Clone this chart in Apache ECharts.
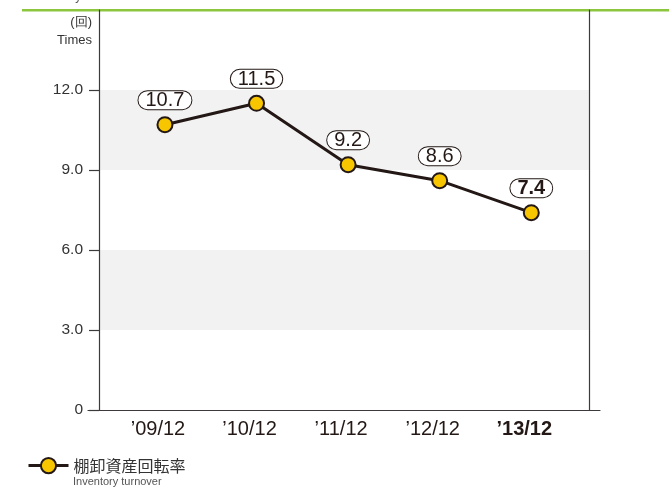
<!DOCTYPE html>
<html>
<head>
<meta charset="utf-8">
<script src="https://cdn.jsdelivr.net/npm/echarts@6/dist/echarts.min.js"></script>
<style>
  html, body { margin: 0; padding: 0; background: #fff; }
  #chart { width: 669px; height: 489px; }
</style>
</head>
<body>
<div id="chart"></div>
<script>
// 年度（カテゴリ）
const categories = ['’09/12', '’10/12', '’11/12', '’12/12', '’13/12']
// 棚卸資産回転率（回）
const turnover = [10.7, 11.5, 9.2, 8.6, 7.4]
// 縦軸の目盛
const yTicks = [0, 3, 6, 9, 12]

const chart = echarts.init(document.getElementById('chart'))
const font = '"Liberation Sans", Arial, sans-serif'
const lineColor = '#231815'
const axisColor = '#3e3a39'

const option = {
  animation: false,
  textStyle: { fontFamily: font },
  title: {
    text: 'Inventory turnover',
    left: 27,
    top: -14,
    textStyle: { fontSize: 12, fontWeight: 'normal', color: '#555' }
  },
  graphic: [
    // 上部の緑ライン
    { type: 'rect', shape: { x: 22, y: 9, width: 647, height: 2.5 }, style: { fill: '#8cc63f' } },
    { type: 'text', right: 577, top: 16, style: { text: '(回)', font: '13px ' + font, fill: '#333', align: 'right' } },
    { type: 'text', right: 577, top: 34, style: { text: 'Times', font: '13px ' + font, fill: '#333', align: 'right' } },
    { type: 'text', left: 73, top: 476, style: { text: 'Inventory turnover', font: '11px ' + font, fill: '#555' } }
  ],
  legend: {
    left: 22,
    top: 452,
    itemWidth: 40,
    itemHeight: 19,
    itemGap: 6,
    lineStyle: { width: 3, color: lineColor },
    itemStyle: { color: '#f7c600', borderColor: lineColor, borderWidth: 2 },
    textStyle: { fontSize: 16, color: '#333', fontFamily: '"Noto Sans CJK JP", sans-serif' },
    data: ['棚卸資産回転率']
  },
  grid: [
    // x軸のライン用（左右に少しはみ出す）
    { left: 88, right: 69, top: 10, height: 400 },
    // プロット領域
    { left: 99, right: 80, top: 10, height: 400 }
  ],
  xAxis: [
    {
      gridIndex: 0, type: 'value', min: 0, max: 1,
      axisLine: { show: true, onZero: false, lineStyle: { color: axisColor, width: 1.2 } },
      axisTick: { show: false }, axisLabel: { show: false }, splitLine: { show: false }
    },
    {
      gridIndex: 1, type: 'value', min: -0.72, max: 4.63,
      axisLine: { show: false }, axisTick: { show: false }, splitLine: { show: false },
      axisLabel: {
        customValues: [0, 1, 2, 3, 4],
        margin: 9,
        fontSize: 20,
        color: '#231815',
        padding: [0, 14, 0, 0],
        formatter: v => {
          const i = Math.round(v)
          return i === 4 ? '{b|' + categories[i] + '}' : categories[i]
        },
        rich: { b: { fontSize: 20, fontWeight: 'bold', color: '#231815' } }
      }
    }
  ],
  yAxis: [
    {
      gridIndex: 0, type: 'value', min: 0, max: 15, show: false
    },
    {
      gridIndex: 1, type: 'value', min: 0, max: 15, interval: 3, position: 'left',
      axisLine: { show: true, onZero: false, lineStyle: { color: axisColor, width: 1.2 } },
      axisTick: { show: true, customValues: yTicks, length: 10, lineStyle: { color: axisColor, width: 1.2 } },
      axisLabel: {
        customValues: yTicks,
        margin: 16,
        fontSize: 15.5,
        color: '#333',
        formatter: v => v === 0 ? '0' : v.toFixed(1)
      },
      splitLine: { show: false },
      splitArea: { show: true, areaStyle: { color: ['#ffffff', '#f2f2f2'] } }
    },
    {
      gridIndex: 1, type: 'value', min: 0, max: 15, position: 'right',
      axisLine: { show: true, onZero: false, lineStyle: { color: axisColor, width: 1.2 } },
      axisTick: { show: false }, axisLabel: { show: false }, splitLine: { show: false }
    }
  ],
  series: [
    {
      name: '棚卸資産回転率',
      type: 'line',
      xAxisIndex: 1,
      yAxisIndex: 1,
      data: turnover.map((v, i) => [i, v]),
      symbol: 'circle',
      symbolSize: 15,
      lineStyle: { color: lineColor, width: 3 },
      itemStyle: { color: '#f7c600', borderColor: lineColor, borderWidth: 2 },
      label: {
        show: true,
        position: 'top',
        distance: 7,
        fontSize: 20,
        color: '#231815',
        backgroundColor: '#fff',
        borderColor: '#231815',
        borderWidth: 1,
        borderRadius: 10,
        padding: [1, 7, 0, 7],
        lineHeight: 17,
        formatter: p => p.value[1].toFixed(1)
      },
      emphasis: { disabled: true }
    }
  ]
}

// 最後のラベルは太字
option.series[0].data[4] = {
  value: [4, turnover[4]],
  label: { fontWeight: 'bold' }
}

chart.setOption(option)
</script>
</body>
</html>
